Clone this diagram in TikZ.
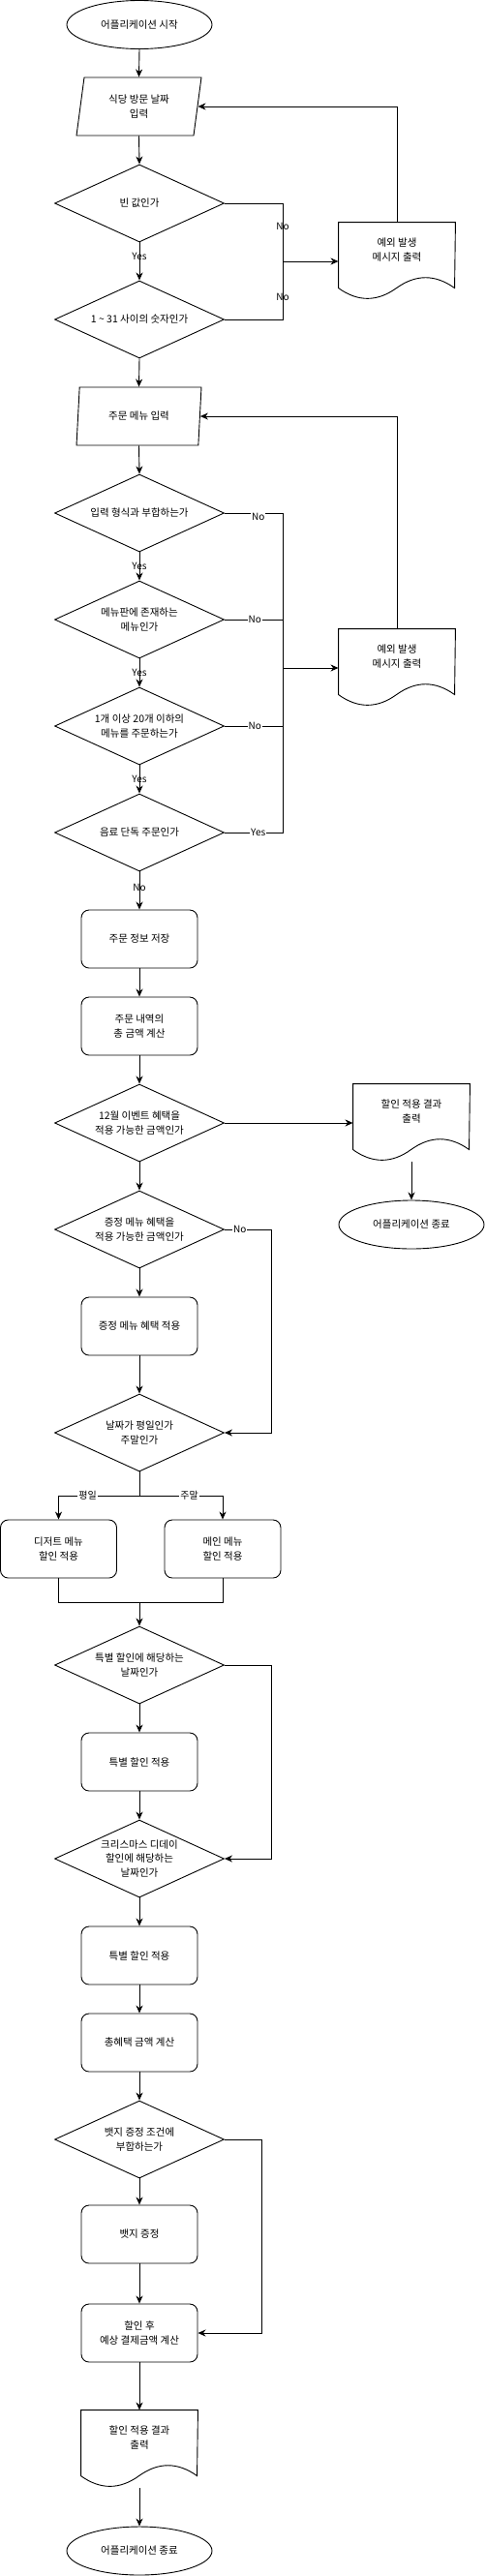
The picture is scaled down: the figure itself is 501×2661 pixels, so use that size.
\documentclass[tikz,border=0pt]{standalone}
\usepackage{fontspec}
\setmainfont{Noto Sans CJK KR}
\usetikzlibrary{shapes.geometric, arrows.meta, calc}

\tikzset{
  every node/.style={font=\fontsize{10.5}{14.5}\selectfont},
  startstop/.style={ellipse, draw, minimum width=150pt, minimum height=50pt, inner sep=0pt},
  inputbox/.style={trapezium, draw, trapezium left angle=71.57, trapezium right angle=108.43,
    trapezium stretches body, minimum width=129pt, minimum height=60pt, inner sep=0pt, align=center},
  decision/.style={diamond, draw, aspect=2.2, inner sep=-4pt, minimum width=175pt, minimum height=80pt, align=center},
  process/.style={rectangle, draw, rounded corners=8pt, minimum width=120pt, minimum height=60pt, align=center},
  docbox/.style={rectangle, minimum width=120pt, minimum height=56pt, align=center},
  lbl/.style={fill=white, inner sep=1pt, font=\fontsize{10}{12}\selectfont},
  vlbl/.style={inner sep=1pt, font=\fontsize{10}{12}\selectfont}
}

% outline of a document node (wavy bottom)
\newcommand{\docoutline}[1]{%
  \draw (#1.north west) -- (#1.north east) -- ($(#1.north west)+(120,68)$)
    .. controls ($(#1.north west)+(100,53.6)$) and ($(#1.north west)+(80,53.6)$) .. ($(#1.north west)+(60,68)$)
    .. controls ($(#1.north west)+(40,82.4)$) and ($(#1.north west)+(20,82.4)$) .. ($(#1.north west)+(0,68)$)
    -- cycle;}

\begin{document}
\begin{tikzpicture}[x=1pt, y=-1pt, line width=0.9pt, >={Stealth[length=8pt, width=7pt, inset=2.5pt]}]
    \useasboundingbox (0,0) rectangle (501,2661);

    % date input
    \node[startstop] (start) at (144,25.5) {어플리케이션 시작};
    \node[inputbox] (datein) at (143.5,110) {식당 방문 날짜\\입력};
    \node[decision] (isempty) at (144,210) {빈 값인가};
    \node[decision] (inrange) at (144,330) {1 \textasciitilde{} 31 사이의 숫자인가};
    \coordinate (dateerr) at (292,270);
    \node[docbox] (dateexc) at (410,258) {예외 발생\\메시지 출력};
    \docoutline{dateexc}

    \draw[->] (start.south) -- (datein.north);
    \draw[->] (datein.south) -- (isempty.north);
    \draw[->] (isempty.south) -- node[vlbl, pos=0.375] {Yes} (inrange.north);
    \draw (isempty.east) -| node[vlbl, pos=0.7] {No} (dateerr);
    \draw (inrange.east) -| node[vlbl, pos=0.69] {No} (dateerr);
    \draw[->] (dateerr) -- (dateerr -| dateexc.west);
    \draw[->] (dateexc.north) |- (datein.east);

    % menu input
    \node[inputbox] (menuin) at (143.5,430) {주문 메뉴 입력};
    \node[decision] (isformat) at (144,530) {입력 형식과 부합하는가};
    \node[decision] (onmenu) at (144,640) {메뉴판에 존재하는\\메뉴인가};
    \node[decision] (count) at (144,750) {1개 이상 20개 이하의\\메뉴를 주문하는가};
    \node[decision] (drinkonly) at (144,860) {음료 단독 주문인가};
    \coordinate (menuerr) at (292,690);
    \node[docbox] (menuexc) at (410,678) {예외 발생\\메시지 출력};
    \docoutline{menuexc}

    \draw[->] (inrange.south) -- (menuin.north);
    \draw[->] (menuin.south) -- (isformat.north);
    \draw[->] (isformat.south) -- node[vlbl] {Yes} (onmenu.north);
    \draw[->] (onmenu.south) -- node[vlbl] {Yes} (count.north);
    \draw[->] (count.south) -- node[vlbl] {Yes} (drinkonly.north);
    \draw (isformat.east) -| node[lbl, pos=0.29, yshift=-4pt] {No} (menuerr);
    \draw (onmenu.east) -| node[lbl, pos=0.26] {No} (menuerr);
    \draw (count.east) -| node[lbl, pos=0.26] {No} (menuerr);
    \draw (drinkonly.east) -| node[lbl, pos=0.29] {Yes} (menuerr);
    \draw[->] (menuerr) -- (menuerr -| menuexc.west);
    \draw[->] (menuexc.north) |- (menuin.east);

    % order total and event check
    \node[process] (save) at (144,970) {주문 정보 저장};
    \node[process] (total) at (144,1060) {주문 내역의\\총 금액 계산};
    \node[decision] (eventok) at (144,1160) {12월 이벤트 혜택을\\적용 가능한 금액인가};
    \node[docbox] (earlyout) at (425,1148) {할인 적용 결과\\출력};
    \docoutline{earlyout}
    \node[startstop] (earlyend) at (425,1265) {어플리케이션 종료};

    \draw[->] (drinkonly.south) -- node[vlbl, pos=0.42] {No} (save.north);
    \draw[->] (save.south) -- (total.north);
    \draw[->] (total.south) -- (eventok.north);
    \draw[->] (eventok.east) -- (eventok.east -| earlyout.west);
    \draw[->, shorten <=24pt] (earlyout.south) -- (earlyend.north);

    % gift and weekday / weekend
    \node[decision] (giftok) at (144,1270) {증정 메뉴 혜택을\\적용 가능한 금액인가};
    \node[process] (gift) at (144,1370) {증정 메뉴 혜택 적용};
    \node[decision] (weekday) at (144,1480) {날짜가 평일인가\\주말인가};
    \coordinate (split) at (144,1545);
    \node[process] (dessert) at (60.5,1600) {디저트 메뉴\\할인 적용};
    \node[process] (mainmenu) at (230,1600) {메인 메뉴\\할인 적용};
    \coordinate (merge) at (144,1655);

    \draw[->] (eventok.south) -- (giftok.north);
    \draw[->] (giftok.south) -- (gift.north);
    \draw[->] (giftok.east) -- node[lbl, pos=0.33] {No} ++(48,0) |- (weekday.east);
    \draw[->] (gift.south) -- (weekday.north);
    \draw (weekday.south) -- (split);
    \draw[->] (split) -| node[lbl, pos=0.32] {평일} (dessert.north);
    \draw[->] (split) -| node[lbl, pos=0.3] {주말} (mainmenu.north);
    \draw (dessert.south) |- (merge);
    \draw (mainmenu.south) |- (merge);

    % special and d-day discounts
    \node[decision] (special) at (144,1720) {특별 할인에 해당하는\\날짜인가};
    \node[process] (specialdc) at (144,1820) {특별 할인 적용};
    \node[decision] (dday) at (144,1920) {크리스마스 디데이\\할인에 해당하는\\날짜인가};
    \node[process] (ddaydc) at (144,2020) {특별 할인 적용};
    \node[process] (benefit) at (144,2110) {총혜택 금액 계산};

    \draw[->] (merge) -- (special.north);
    \draw[->] (special.south) -- (specialdc.north);
    \draw[->] (special.east) -- ++(48,0) |- (dday.east);
    \draw[->] (specialdc.south) -- (dday.north);
    \draw[->] (dday.south) -- (ddaydc.north);
    \draw[->] (ddaydc.south) -- (benefit.north);

    % badge and result
    \node[decision] (badgeok) at (144,2210) {뱃지 증정 조건에\\부합하는가};
    \node[process] (badge) at (144,2308) {뱃지 증정};
    \node[process] (payment) at (144,2410) {할인 후\\예상 결제금액 계산};
    \node[docbox] (result) at (144,2518) {할인 적용 결과\\출력};
    \docoutline{result}
    \node[startstop] (finish) at (144,2635) {어플리케이션 종료};

    \draw[->] (benefit.south) -- (badgeok.north);
    \draw[->] (badgeok.south) -- (badge.north);
    \draw[->] (badgeok.east) -- ++(38,0) |- (payment.east);
    \draw[->] (badge.south) -- (payment.north);
    \draw[->] (payment.south) -- (result.north);
    \draw[->, shorten <=24pt] (result.south) -- (finish.north);
\end{tikzpicture}
\end{document}
